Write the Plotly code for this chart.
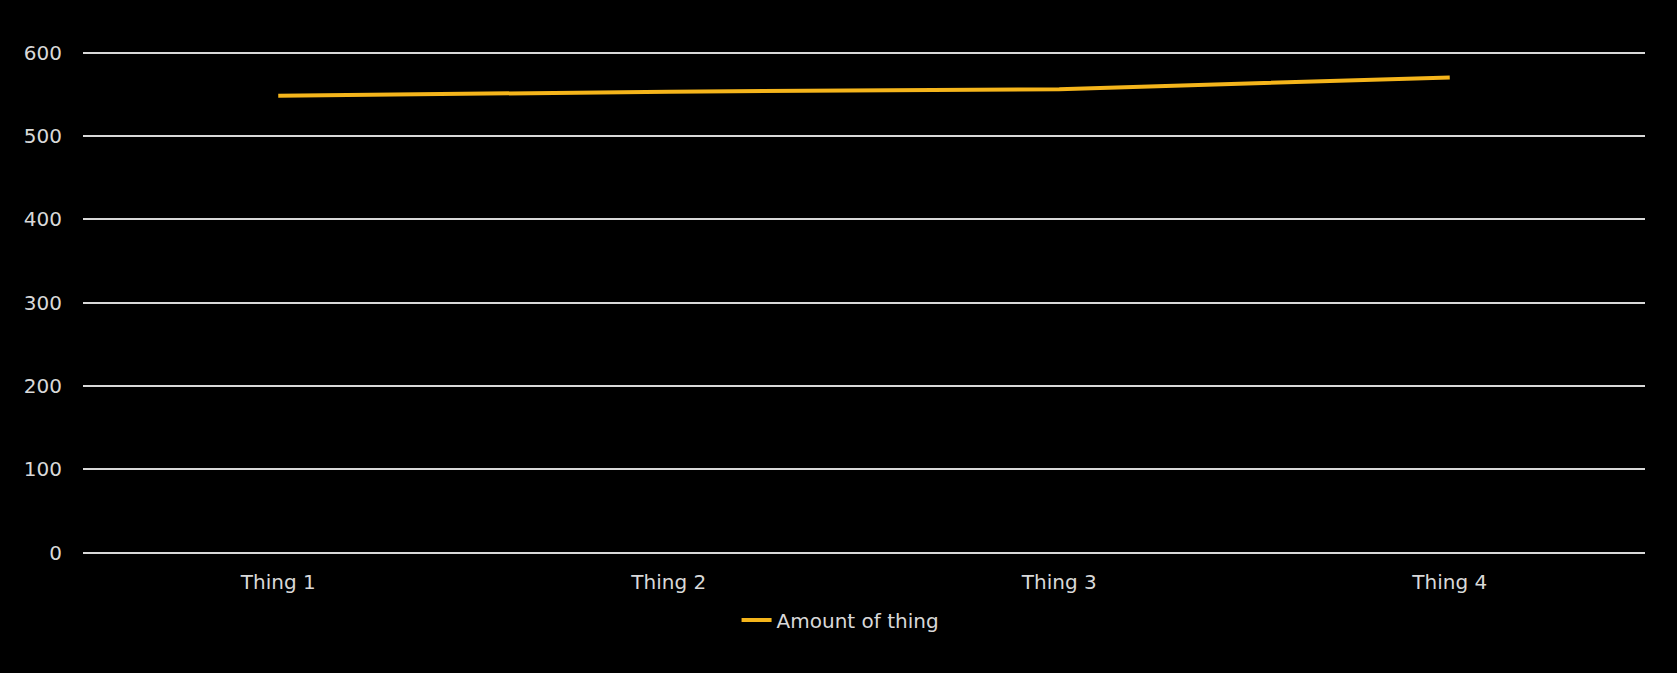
import plotly.graph_objects as go

# Data
categories = ["Thing 1", "Thing 2", "Thing 3", "Thing 4"]
amounts = [548, 553, 556, 570]
y_ticks = [0, 100, 200, 300, 400, 500, 600]

fig = go.Figure()

fig.add_trace(go.Scatter(
    x=categories,
    y=amounts,
    mode="lines",
    name="Amount of thing",
    line=dict(color="#F5B51B", width=4),
))

fig.update_layout(
    width=1677,
    height=673,
    paper_bgcolor="black",
    plot_bgcolor="black",
    margin=dict(l=83, r=32, t=50, b=118),
    font=dict(family="DejaVu Sans, Arial, sans-serif", size=20, color="#D9D9D9"),
    showlegend=True,
    legend=dict(
        orientation="h",
        x=0.485,
        xanchor="center",
        y=-0.09,
        yanchor="top",
        font=dict(size=20, color="#D9D9D9"),
        bgcolor="rgba(0,0,0,0)",
    ),
    xaxis=dict(
        showgrid=False,
        showline=False,
        zeroline=False,
        ticks="",
        range=[-0.5, 3.5],
        ticklabelstandoff=13,
        tickfont=dict(size=20, color="#D9D9D9"),
    ),
    yaxis=dict(
        # padded a little so the 0 and 600 gridlines are still drawn
        range=[-3, 603],
        tickvals=y_ticks,
        showgrid=True,
        gridcolor="#D9D9D9",
        gridwidth=1.5,
        zeroline=False,
        showline=False,
        ticks="",
        ticklabelstandoff=20,
        tickfont=dict(size=20, color="#D9D9D9"),
    ),
)

# drop the page's default white margin around the chart
fig.write_html(
    "out.html",
    config={"displayModeBar": False},
    post_script="document.body.style.margin='0';document.body.style.background='black';",
)
